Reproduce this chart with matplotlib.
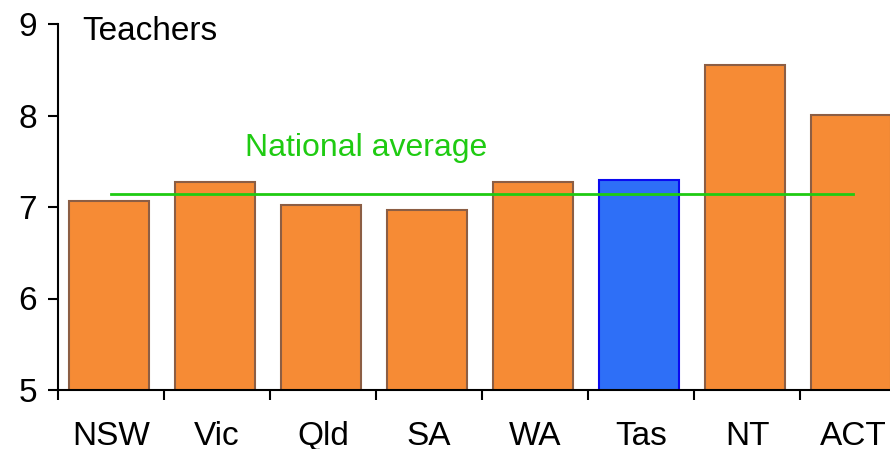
import matplotlib
matplotlib.use("Agg")
import matplotlib.pyplot as plt
import numpy as np

plt.rcParams['font.family'] = ['Liberation Sans', 'DejaVu Sans']

states = ["NSW", "Vic", "Qld", "SA", "WA", "Tas", "NT", "ACT"]
teachers = [7.07, 7.27, 7.02, 6.97, 7.27, 7.29, 8.55, 8.01]
national_average = 7.14
highlight = "Tas"
y_ticks = [5, 6, 7, 8, 9]

fig = plt.figure(figsize=(8.9, 4.49), dpi=100)
ax = fig.add_axes([58 / 890, 59 / 449, 848 / 890, 366 / 449])

x = np.arange(len(states))
faces = ["#2E6FF7" if s == highlight else "#F68B35" for s in states]
edges = ["#0A0AF0" if s == highlight else "#8C5E44" for s in states]
ax.bar(x - 0.02, teachers, width=0.755, bottom=0, color=faces, edgecolor=edges,
       linewidth=1.5, zorder=2)

ax.plot([x[0], x[-1]], [national_average, national_average],
        color="#1FCB12", linewidth=2, zorder=3)
ax.text(2.41, 7.64, "National average", color="#1FCB12", fontsize=23,
        ha="center", va="center")

ax.set_xlim(-0.5, len(states) - 0.5)
ax.set_ylim(5, 9)
ax.set_yticks(y_ticks)
ax.set_yticklabels([str(v) for v in y_ticks])

ax.set_xticks(np.arange(len(states) + 1) - 0.5)
ax.set_xticklabels([])
ax.set_xticks(x, minor=True)
ax.set_xticklabels(states, minor=True)
ax.tick_params(axis="x", which="major", direction="out", length=7, width=1.5)
ax.tick_params(axis="x", which="minor", length=0, pad=22, labelsize=24)
ax.tick_params(axis="y", direction="out", length=7, width=1.5, pad=8, labelsize=24)

for side in ("top", "right"):
    ax.spines[side].set_visible(False)
for side in ("left", "bottom"):
    ax.spines[side].set_linewidth(1.5)

fig.text(82 / 890, 1 - 40 / 449, "Teachers", fontsize=24, ha="left", va="baseline")

fig.savefig("out.png", dpi=100)
